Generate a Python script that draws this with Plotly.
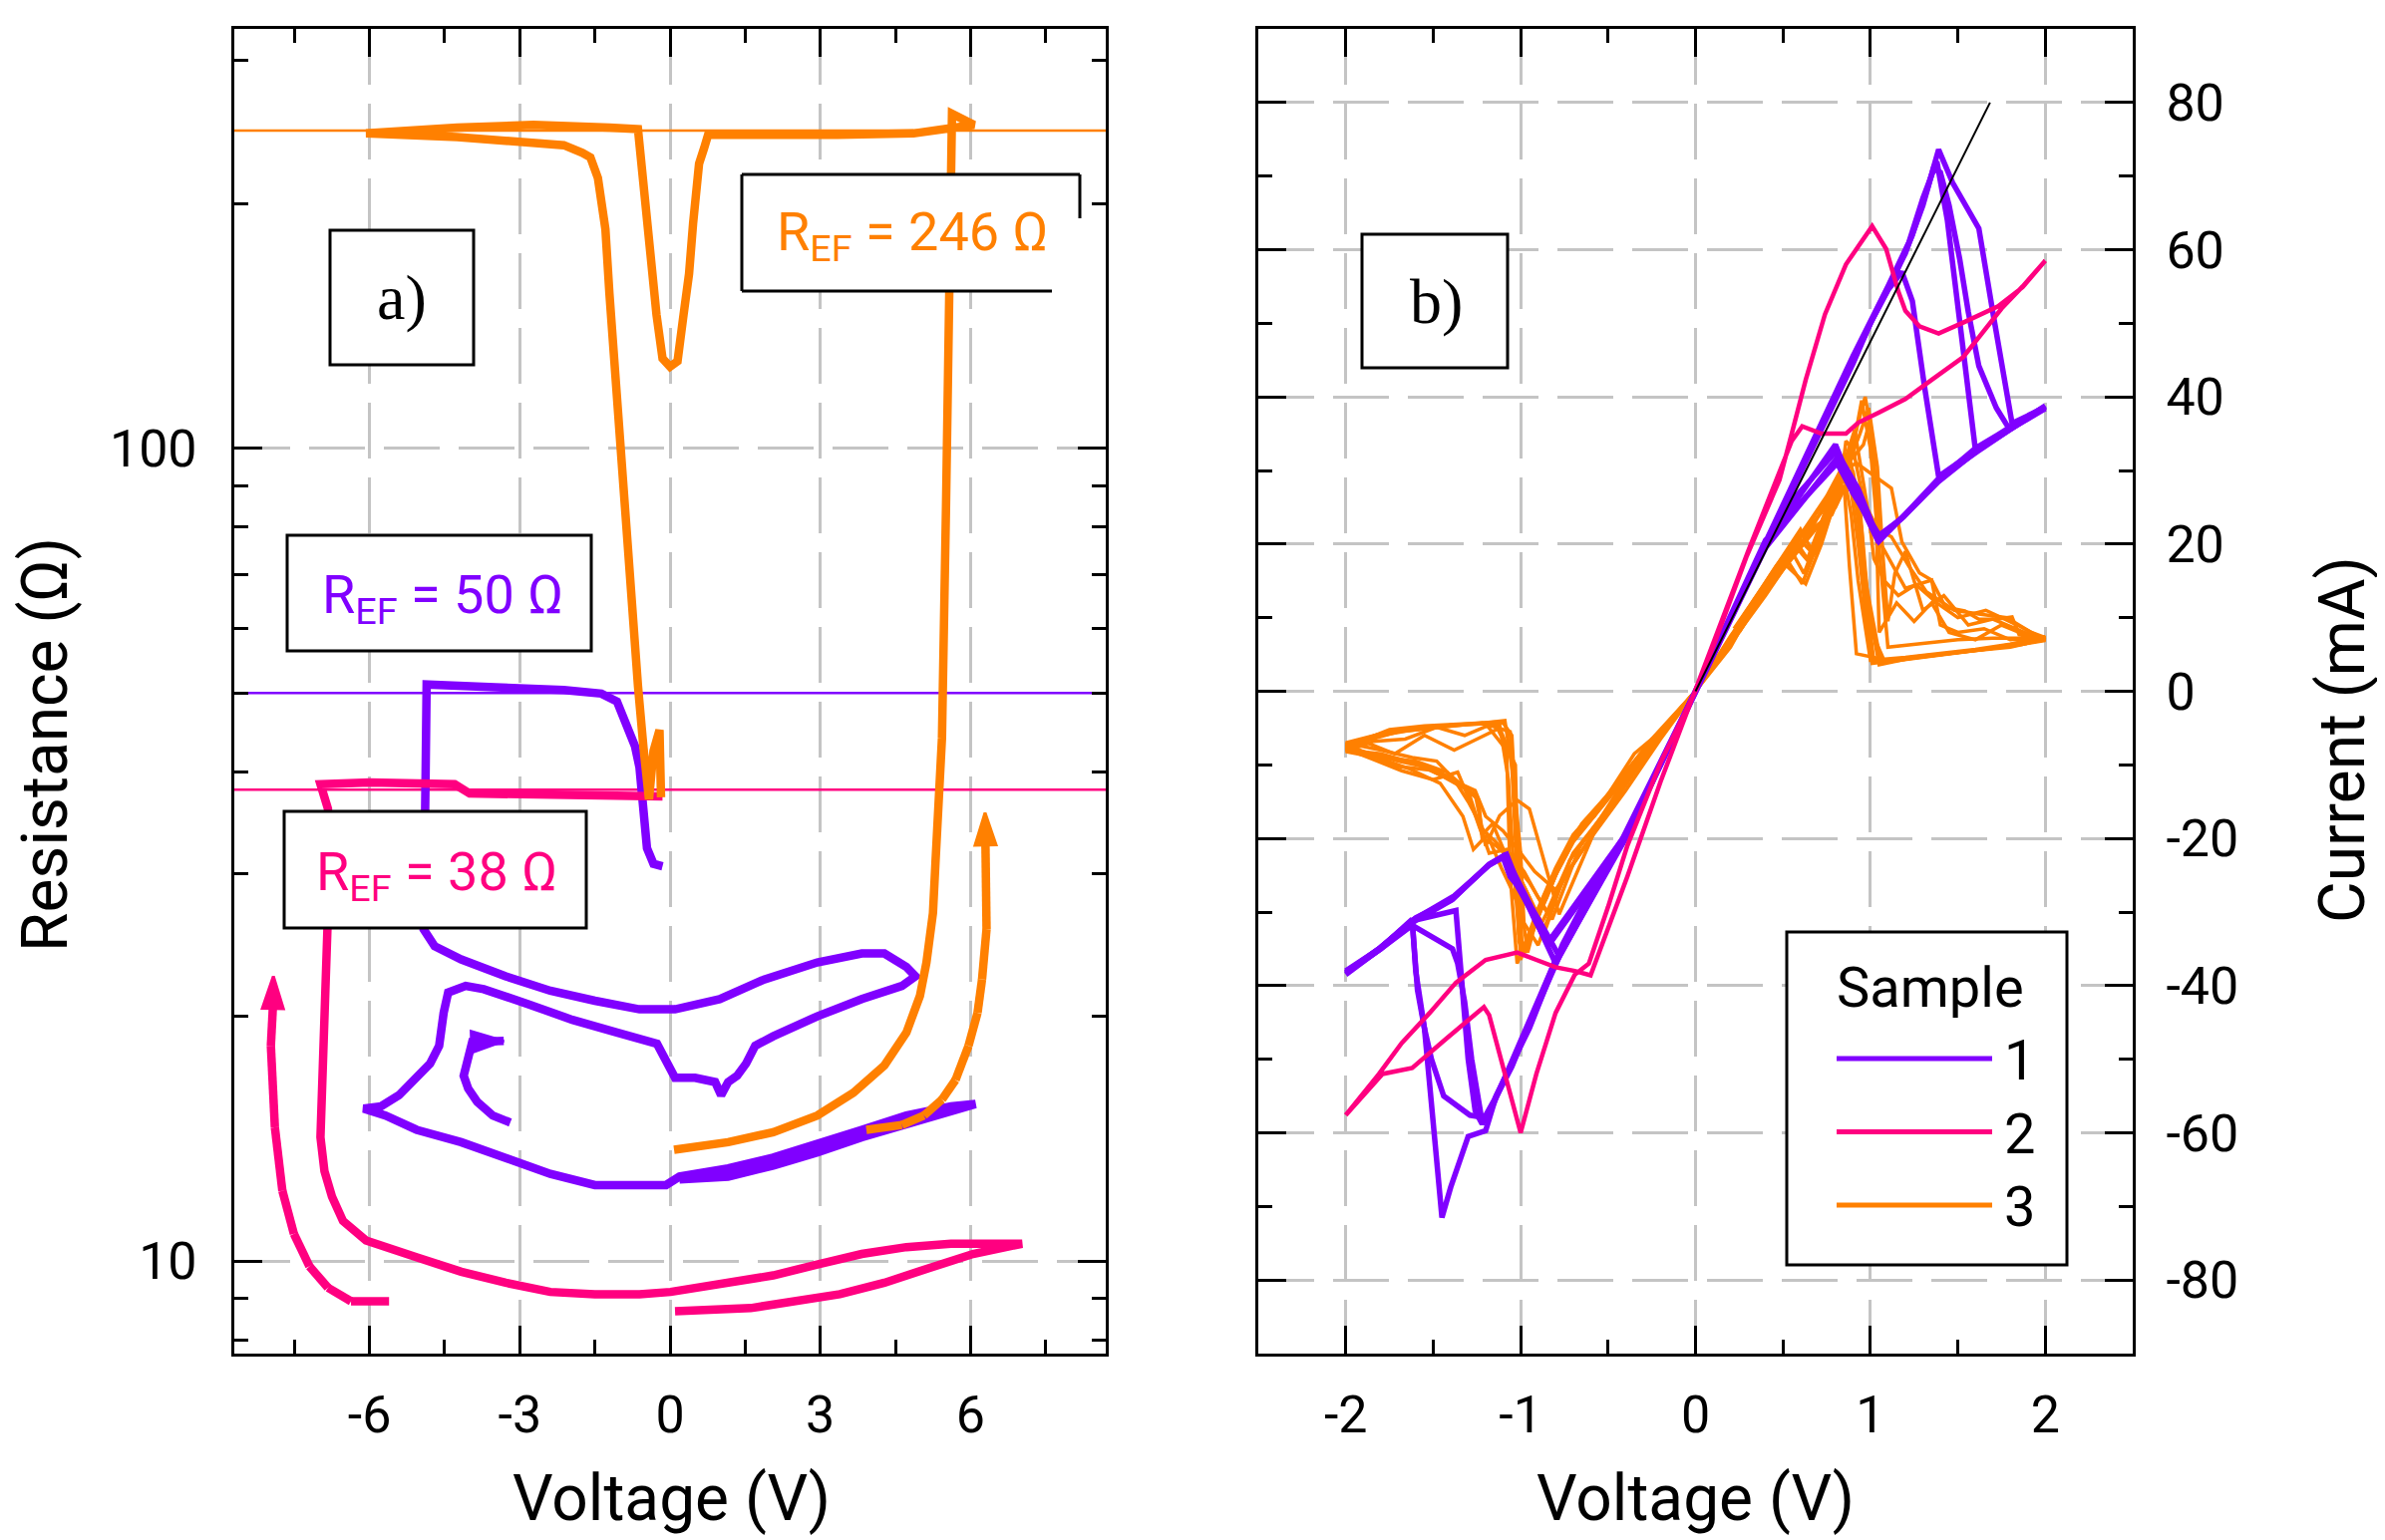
import plotly.graph_objects as go

# ---------------- DATA ----------------
# Panel a) Resistance vs voltage (V, Ohm)
s1_rv_v = [-0.15, -0.33, -0.46, -0.53, -0.61, -0.70, -0.79, -0.91, -1.06, -1.37, -2.12, -3.49, -4.86,
           -4.88, -4.90, -4.92, -4.70, -4.17, -3.28, -2.39, -1.50, -0.61, -0.08,
           0.10, 0.99, 1.88, 2.94, 3.83, 4.28, 4.72, 4.90, 4.63, 3.83, 2.94, 2.06, 1.70, 1.52, 1.34, 1.16, 1.02, 0.90, 0.50, 0.10,
           -0.26, -1.06, -1.95, -2.83, -3.72, -4.08, -4.43, -4.52, -4.61, -4.79, -5.06, -5.41, -5.77, -6.12,
           -5.68, -5.06, -4.17, -3.28, -2.39, -1.50, -0.61, -0.08,
           0.19, 1.16, 2.06, 2.94, 3.83, 4.72, 5.61, 6.10, 5.61, 4.72, 3.83, 2.94, 2.06, 1.16, 0.19]
s1_rv_r = [30.6, 30.8, 32.2, 36.4, 40.5, 43.0, 44.5, 46.7, 48.8, 49.9, 50.4, 50.8, 51.2,
           40.0, 30.0, 25.6, 24.4, 23.5, 22.4, 21.5, 20.9, 20.4, 20.4,
           20.4, 21.0, 22.2, 23.3, 23.9, 23.9, 23.0, 22.4, 21.8, 21.0, 20.0, 18.9, 18.4, 17.5, 16.9, 16.6, 16.0, 16.6, 16.8, 16.8,
           18.5, 19.1, 19.8, 20.7, 21.6, 21.8, 21.4, 20.2, 18.4, 17.5, 16.8, 16.0, 15.5, 15.4,
           15.1, 14.5, 14.0, 13.4, 12.8, 12.4, 12.4, 12.4,
           12.7, 13.0, 13.4, 13.9, 14.5, 15.1, 15.5, 15.6, 15.3, 14.8, 14.2, 13.6, 13.1, 12.7, 12.6]
s1_curl_v = [-3.19, -3.54, -3.85, -4.03, -4.12, -4.06, -3.99, -3.95, -3.32]
s1_curl_r = [14.8, 15.1, 15.7, 16.3, 16.9, 17.6, 18.2, 18.6, 18.65]

s2_rv_v = [-0.15, -2.0, -4.0, -4.3, -6.0, -6.98, -6.83, -6.83, -6.90, -6.98, -6.90, -6.75, -6.53, -6.07, -5.05, -4.17,
           -3.28, -2.39, -1.50, -0.61, 0.01, 1.16, 2.06, 2.94, 3.83, 4.72, 5.61, 7.03, 6.05, 5.17, 4.28, 3.39, 2.50, 1.61, 0.10]
s2_rv_r = [37.3, 37.5, 37.6, 38.6, 38.8, 38.6, 36.0, 26.8, 19.8, 14.2, 12.9, 12.0, 11.2, 10.6, 10.1, 9.7,
           9.4, 9.16, 9.1, 9.1, 9.16, 9.4, 9.6, 9.9, 10.2, 10.4, 10.5, 10.5, 10.2, 9.8, 9.4, 9.1, 8.9, 8.75, 8.67]
s2_arrow_v = [-5.61, -6.37, -6.83, -7.20, -7.51, -7.74, -7.89, -7.97, -7.93, -7.92]
s2_arrow_r = [8.92, 8.92, 9.27, 9.85, 10.8, 12.2, 14.6, 18.4, 20.5, 22.4]

s3_rv_v = [0.08, 1.16, 2.06, 2.94, 3.66, 4.28, 4.72, 4.99, 5.12, 5.25, 5.30, 5.39, 5.43, 5.51, 5.55, 5.61, 5.61, 5.63,
           6.07, 4.86, 3.34, 1.82, 0.76, 0.68, 0.58, 0.46, 0.38, 0.27, 0.15, 0.0, -0.15, -0.27, -0.38, -0.49, -0.58, -0.64,
           -1.21, -2.73, -4.25, -6.07, -4.25, -2.73, -2.12, -1.75, -1.59, -1.44, -1.29, -1.21, -1.09, -0.99, -0.88, -0.76,
           -0.64, -0.53, -0.46, -0.42, -0.33, -0.21, -0.18]
s3_rv_r = [13.7, 14.0, 14.4, 15.1, 16.1, 17.4, 19.1, 21.2, 23.3, 26.8, 30.9, 38.1, 44.0, 84.4, 130, 200, 245, 258,
           250, 244, 243, 243, 243, 234, 224, 189, 164, 146, 128, 126, 129, 146, 173, 200, 231, 247,
           248, 250, 248, 244, 241.5, 238, 236, 231, 228, 215, 186, 155, 121, 97.4, 78.5, 63.2,
           51.0, 42.8, 39.3, 37.0, 42.4, 45.0, 37.2]
s3_arrow_v = [3.92, 4.63, 5.07, 5.43, 5.70, 5.96, 6.14, 6.23, 6.32, 6.32, 6.30, 6.29]
s3_arrow_r = [14.5, 14.7, 15.1, 15.8, 16.7, 18.4, 20.2, 22.2, 25.6, 29.5, 32.5, 35.6]

ref_r = [246, 50, 38]          # R_EF reference levels (Ohm)
ref_labels = ["246", "50", "38"]

# Panel b) Current vs voltage (V, mA), cycles
s1_iv_v = [
    [0, 0.29, 0.57, 0.86, 1.01, 1.14, 1.24, 1.33, 1.39, 1.47, 1.62, 1.70, 1.81, 2.0, 1.81, 1.62, 1.39, 1.18, 1.05, 0.97, 0.90, 0.80, 0.50, 0,
     -0.39, -0.58, -0.76, -0.95, -1.14, -1.20, -1.30, -1.40, -1.45, -1.49, -1.55, -1.59, -1.62, -1.81, -2.0, -1.81, -1.62, -1.39, -1.18, -1.10, -1.06, -0.99, -0.87, -0.80, -0.50, 0],
    [0.30, 0.60, 0.90, 1.05, 1.20, 1.30, 1.36, 1.40, 1.45, 1.51, 1.56, 1.62, 1.72, 1.79, 2.0, 1.79, 1.60, 1.39, 1.20, 1.04, 0.92, 0.80, 0.40, 0,
     -0.40, -0.76, -1.00, -1.15, -1.22, -1.23, -1.28, -1.32, -1.36, -1.39, -1.62, -1.81, -2.0, -1.80, -1.61, -1.38, -1.17, -1.09, -1.02, -0.94, -0.85, -0.78, -0.40, 0],
    [0.30, 0.60, 0.90, 1.00, 1.10, 1.18, 1.24, 1.31, 1.39, 1.62, 2.0, 1.62, 1.39, 1.17, 1.05, 0.93, 0.82, 0.40, 0,
     -0.40, -0.80, -1.05, -1.19, -1.29, -1.44, -1.51, -1.55, -1.60, -1.62, -1.82, -2.0, -1.83, -1.60, -1.40, -1.19, -1.10, -1.03, -0.95, -0.84, -0.40, 0],
    [0.30, 0.60, 0.90, 1.10, 1.22, 1.30, 1.38, 1.44, 1.49, 1.54, 1.60, 1.80, 2.0, 1.80, 1.60, 1.40, 1.19, 1.05, 0.90, 0.81, 0.40, 0,
     -0.40, -0.80, -1.05, -1.22, -1.26, -1.30, -1.35, -1.37, -1.62, -1.80, -2.0, -1.80, -1.61, -1.39, -1.18, -1.08, -1.00, -0.92, -0.84, -0.40, 0],
]
s1_iv_i = [
    [0, 14.5, 28.8, 43.0, 50.5, 56.5, 62.0, 68.6, 73.6, 69.1, 62.9, 51.5, 36.4, 38.6, 35.8, 32.9, 28.7, 23.5, 21.2, 24.4, 27.0, 32.5, 24.5, 0,
     -19.0, -26.2, -34.4, -45.8, -55.0, -59.7, -60.5, -67.4, -71.5, -61.2, -45.8, -40.6, -31.3, -35.0, -38.0, -35.0, -31.3, -28.2, -23.6, -22.6, -25.2, -27.2, -33.4, -37.0, -24.0, 0],
    [15.0, 30.0, 45.0, 52.5, 59.5, 66.0, 71.0, 70.5, 66.0, 58.8, 51.5, 44.2, 38.5, 35.8, 38.4, 35.5, 32.5, 28.5, 24.0, 20.6, 26.5, 33.5, 20.0, 0,
     -19.5, -35.0, -48.0, -55.5, -58.5, -57.1, -50.0, -42.2, -37.0, -35.0, -31.8, -35.2, -38.3, -34.8, -31.0, -27.8, -23.4, -22.3, -25.5, -29.3, -33.0, -36.0, -20.0, 0],
    [14.8, 29.5, 44.5, 50.0, 54.5, 57.0, 53.0, 41.3, 29.2, 33.0, 38.8, 32.7, 28.9, 23.3, 20.4, 27.5, 32.0, 19.5, 0,
     -19.8, -36.5, -50.5, -58.0, -57.6, -55.0, -50.0, -45.8, -38.0, -31.0, -35.3, -38.5, -35.5, -30.8, -28.4, -23.8, -22.4, -26.0, -29.5, -34.0, -19.5, 0],
    [15.2, 30.2, 45.5, 55.0, 61.0, 67.0, 72.0, 64.0, 54.6, 45.2, 32.9, 35.9, 38.7, 36.0, 33.0, 29.0, 23.7, 21.0, 27.0, 31.0, 20.5, 0,
     -19.6, -36.5, -51.0, -58.8, -57.0, -50.0, -37.0, -29.8, -31.2, -34.8, -38.2, -35.0, -31.3, -28.3, -23.5, -22.2, -27.0, -31.0, -34.5, -20.0, 0],
]

s2_iv_v = [0, 0.10, 0.29, 0.48, 0.55, 0.63, 0.74, 0.86, 1.01, 1.09, 1.16, 1.20, 1.28, 1.39, 1.54, 1.73, 1.87, 2.0,
           1.87, 1.75, 1.53, 1.35, 1.20, 1.05, 0.93, 0.86, 0.72, 0.61, 0.55, 0.30, 0,
           -0.20, -0.39, -0.58, -0.60, -0.69, -0.80, -0.91, -1.02, -1.20, -1.37, -1.52, -1.68, -1.81, -2.0,
           -1.79, -1.62, -1.43, -1.21, -1.18, -1.10, -1.00, -0.91, -0.80, -0.69, -0.61, -0.50, -0.39, -0.20, 0]
s2_iv_i = [0, 6.0, 18.2, 28.7, 35.0, 42.3, 51.2, 58.0, 63.2, 60.1, 54.3, 51.7, 49.6, 48.6, 50.2, 52.3, 54.9, 58.5,
           55.0, 52.0, 45.4, 42.3, 39.7, 37.9, 36.5, 35.0, 35.0, 36.0, 34.0, 19.0, 0,
           -12.3, -25.2, -37.5, -38.6, -38.0, -37.5, -36.5, -35.5, -36.5, -39.6, -43.7, -47.8, -52.0, -57.6,
           -52.0, -51.2, -47.3, -42.9, -44.0, -50.9, -60.0, -52.0, -43.7, -38.5, -37.0, -29.3, -21.0, -9.7, 0]

s3_iv_v = [
    [0, 0.20, 0.40, 0.55, 0.62, 0.70, 0.80, 0.90, 0.95, 1.00, 1.04, 1.08, 1.10, 1.30, 1.50, 1.70, 2.00, 1.80, 1.60, 1.40,
     1.20, 1.02, 0.98, 0.95, 0.90, 0.80, 0.60, 0.40, 0.20, 0,
     -0.20, -0.35, -0.50, -0.65, -0.75, -0.85, -0.95, -1.00, -1.02, -1.03, -1.05, -1.10, -1.30, -1.50, -1.70, -2.00, -1.70, -1.50, -1.35, -1.24,
     -1.22, -1.14, -1.05, -0.95, -0.85, -0.70, -0.50, -0.30, 0],
    [0.22, 0.45, 0.58, 0.66, 0.76, 0.84, 0.92, 1.12, 1.18, 1.28, 1.35, 1.43, 1.54, 1.62, 1.72, 1.81, 1.85, 2.00, 1.75, 1.50,
     1.25, 1.05, 1.00, 0.96, 0.92, 0.85, 0.70, 0.45, 0.20, 0,
     -0.22, -0.40, -0.55, -0.70, -0.80, -0.90, -0.97, -1.02, -1.06, -1.08, -1.20, -1.40, -1.60, -1.80, -2.00, -1.85, -1.71, -1.52, -1.33, -1.26,
     -1.20, -1.10, -1.00, -0.92, -0.80, -0.60, -0.40, -0.20, 0],
    [0.25, 0.50, 0.63, 0.72, 0.78, 0.86, 0.94, 0.99, 1.01, 1.06, 1.20, 1.35, 1.40, 1.50, 1.65, 1.80, 2.00, 1.80, 1.60, 1.40,
     1.20, 1.00, 0.93, 0.89, 0.84, 0.75, 0.55, 0.35, 0.15, 0,
     -0.25, -0.45, -0.60, -0.72, -0.82, -0.91, -0.96, -0.98, -1.00, -1.04, -1.09, -1.25, -1.45, -1.65, -1.85, -2.00, -1.80, -1.60, -1.45, -1.26,
     -1.20, -1.12, -1.02, -0.95, -0.87, -0.78, -0.55, -0.35, -0.15, 0],
    [0.20, 0.42, 0.60, 0.68, 0.74, 0.82, 0.88, 0.93, 0.97, 1.00, 1.03, 1.05, 1.15, 1.25, 1.35, 1.45, 1.60, 1.75, 1.85, 2.00,
     1.80, 1.55, 1.30, 1.10, 0.92, 0.88, 0.85, 0.78, 0.60, 0.40, 0.20, 0,
     -0.18, -0.38, -0.58, -0.68, -0.78, -0.88, -0.94, -0.99, -1.01, -1.03, -1.15, -1.35, -1.55, -1.75, -2.00, -1.78, -1.60, -1.42, -1.30, -1.24,
     -1.18, -1.08, -0.98, -0.90, -0.82, -0.66, -0.46, -0.26, 0],
    [0.18, 0.36, 0.52, 0.61, 0.69, 0.77, 0.84, 0.86, 0.90, 0.96, 1.04, 1.12, 1.22, 1.32, 1.48, 1.62, 1.78, 1.92, 2.00, 1.70,
     1.40, 1.15, 1.01, 0.97, 0.93, 0.87, 0.72, 0.50, 0.28, 0,
     -0.28, -0.48, -0.62, -0.74, -0.84, -0.92, -0.99, -1.01, -1.03, -1.06, -1.22, -1.40, -1.62, -1.80, -2.00, -1.80, -1.62, -1.48, -1.38, -1.30,
     -1.21, -1.14, -1.06, -0.97, -0.88, -0.74, -0.52, -0.28, 0],
    [0.15, 0.33, 0.48, 0.57, 0.64, 0.72, 0.80, 0.87, 0.91, 0.95, 0.99, 1.02, 1.08, 1.16, 1.26, 1.38, 1.50, 1.66, 1.84, 2.00,
     1.78, 1.52, 1.28, 1.08, 0.99, 0.95, 0.91, 0.84, 0.66, 0.44, 0.22, 0,
     -0.16, -0.32, -0.46, -0.60, -0.70, -0.80, -0.89, -0.95, -0.99, -1.00, -1.02, -1.05, -1.12, -1.25, -1.38, -1.55, -1.72, -1.88, -2.00, -1.85,
     -1.68, -1.50, -1.36, -1.28, -1.22, -1.16, -1.08, -1.00, -0.93, -0.86, -0.72, -0.50, -0.26, 0],
    [0.24, 0.46, 0.56, 0.65, 0.74, 0.81, 0.89, 0.96, 1.00, 1.04, 1.07, 1.10, 1.14, 1.20, 1.30, 1.42, 1.56, 1.70, 1.86, 2.00,
     1.85, 1.65, 1.45, 1.25, 1.06, 0.98, 0.94, 0.88, 0.80, 0.62, 0.38, 0.18, 0,
     -0.24, -0.42, -0.57, -0.69, -0.79, -0.87, -0.93, -0.97, -1.01, -1.04, -1.07, -1.12, -1.20, -1.32, -1.48, -1.66, -1.84, -2.00, -1.82, -1.64,
     -1.46, -1.33, -1.27, -1.19, -1.11, -1.04, -0.98, -0.90, -0.76, -0.56, -0.34, -0.14, 0],
]
s3_iv_i = [
    [0, 7.0, 14.0, 19.0, 16.0, 21.0, 27.0, 33.0, 39.5, 33.0, 22.0, 12.0, 6.0, 6.5, 7.0, 7.2, 7.2, 6.2, 5.6, 5.0,
     4.4, 4.0, 12.0, 22.0, 30.0, 25.0, 20.0, 13.0, 6.5, 0,
     -5.5, -8.5, -14.0, -18.0, -22.0, -28.0, -33.0, -36.5, -28.0, -15.0, -6.0, -4.3, -4.5, -5.0, -5.5, -7.5, -9.5, -10.5, -12.5, -14.8,
     -20.0, -21.0, -23.0, -26.0, -30.0, -22.0, -16.0, -9.0, 0],
    [8.5, 16.5, 21.0, 19.0, 24.0, 30.0, 31.0, 27.6, 20.3, 16.1, 15.1, 11.4, 10.9, 9.8, 9.8, 10.1, 7.7, 7.0, 6.0, 5.3,
     4.6, 3.6, 10.0, 18.0, 26.0, 29.0, 24.5, 16.0, 7.5, 0,
     -6.0, -11.0, -15.5, -19.5, -24.0, -29.5, -34.0, -37.0, -25.0, -8.0, -4.4, -4.6, -5.0, -5.8, -7.2, -8.7, -10.2, -10.7, -12.8, -13.5,
     -17.0, -19.0, -22.0, -24.5, -27.0, -20.0, -13.5, -6.5, 0],
    [8.0, 17.5, 14.6, 20.0, 24.5, 30.0, 35.0, 38.5, 34.0, 20.0, 14.0, 15.1, 9.0, 8.0, 8.5, 7.0, 7.4, 6.4, 5.7, 5.1,
     4.6, 4.2, 15.0, 24.0, 30.5, 26.5, 19.5, 12.5, 5.0, 0,
     -6.5, -12.5, -17.0, -21.0, -25.5, -31.0, -35.5, -32.0, -22.0, -12.0, -4.0, -4.4, -4.8, -5.4, -6.2, -8.0, -8.5, -9.8, -11.5, -14.0,
     -21.0, -16.9, -14.8, -16.0, -22.6, -30.3, -17.5, -10.0, -4.0, 0],
    [6.5, 15.5, 22.0, 18.5, 22.0, 27.0, 32.0, 36.5, 40.0, 36.0, 26.0, 8.0, 12.0, 9.5, 12.0, 8.0, 7.0, 9.0, 8.0, 7.1,
     6.0, 5.4, 4.8, 4.2, 5.1, 17.0, 28.0, 24.0, 21.0, 14.5, 6.0, 0,
     -5.0, -10.5, -17.0, -19.0, -23.5, -28.5, -33.0, -36.0, -30.0, -10.0, -4.2, -4.4, -4.7, -5.2, -7.6, -9.0, -9.5, -11.0, -13.5, -18.0,
     -22.0, -21.5, -24.5, -28.0, -31.0, -21.0, -14.5, -7.5, 0],
    [6.0, 12.5, 18.0, 14.6, 19.5, 25.0, 30.0, 34.0, 33.0, 26.0, 22.0, 21.0, 17.0, 13.5, 11.0, 10.5, 10.0, 8.0, 7.3, 5.9,
     5.0, 4.3, 3.8, 11.0, 20.0, 31.0, 23.0, 16.5, 9.5, 0,
     -7.5, -13.5, -18.0, -21.5, -26.5, -31.5, -35.0, -34.0, -20.0, -5.5, -4.3, -4.6, -5.1, -5.8, -7.0, -8.0, -9.0, -9.5, -12.0, -15.0,
     -19.0, -20.5, -23.0, -27.0, -31.5, -25.0, -17.0, -8.5, 0],
    [5.5, 12.0, 17.5, 20.5, 18.0, 23.0, 28.0, 32.5, 35.5, 30.0, 24.0, 18.0, 15.0, 13.0, 14.5, 12.0, 10.0, 11.0, 9.0, 7.0,
     6.1, 5.3, 4.6, 4.1, 9.0, 19.0, 27.0, 29.5, 22.0, 15.0, 7.0, 0,
     -4.5, -9.0, -13.5, -17.5, -20.5, -25.0, -30.0, -34.0, -36.0, -30.0, -20.0, -9.0, -5.0, -6.5, -8.0, -6.0, -8.5, -7.0, -7.8, -9.2,
     -10.8, -12.0, -11.0, -15.5, -19.5, -18.0, -22.5, -25.5, -29.0, -32.5, -23.0, -16.0, -8.0, 0],
    [9.0, 17.0, 20.0, 17.5, 22.5, 27.5, 31.5, 33.5, 37.0, 30.5, 19.0, 9.5, 16.0, 19.0, 11.0, 13.0, 9.0, 9.8, 8.2, 6.9,
     6.3, 5.7, 5.0, 4.5, 3.9, 14.0, 25.0, 32.0, 26.5, 21.5, 13.5, 6.0, 0,
     -6.5, -12.0, -16.5, -20.0, -24.5, -29.0, -32.5, -35.5, -33.0, -24.0, -12.0, -4.6, -4.8, -6.0, -4.9, -6.5, -6.8, -8.2, -9.0, -10.5,
     -12.5, -17.0, -21.5, -19.5, -24.0, -27.5, -31.5, -34.5, -25.5, -18.5, -10.5, -4.0, 0],
]

fit_v = [0, 1.684]   # linear fit (black line)
fit_i = [0, 80]

samples = ["1", "2", "3"]

# ticks
xa_ticks = [-6, -3, 0, 3, 6]
xa_ticktext = ["-6", "-3", "0", "3", "6"]
xa_minor = [-7.5, -4.5, -1.5, 1.5, 4.5, 7.5]
ya_ticks = [10, 100]
ya_ticktext = ["10", "100"]
ya_minor = [8, 9, 20, 30, 40, 50, 60, 70, 80, 90, 200, 300]
xb_ticks = [-2, -1, 0, 1, 2]
xb_ticktext = ["-2", "-1", "0", "1", "2"]
xb_minor = [-1.5, -0.5, 0.5, 1.5]
yb_ticks = [-80, -60, -40, -20, 0, 20, 40, 60, 80]
yb_ticktext = ["-80", "-60", "-40", "-20", "0", "20", "40", "60", "80"]
yb_minor = [-70, -50, -30, -10, 10, 30, 50, 70]

XA_RANGE = [-8.7, 8.7]
YA_RANGE_LOG = [0.886, 2.516]
XB_RANGE = [-2.5, 2.5]
YB_RANGE = [-90, 90]

# ---------------- STYLE ----------------
PURPLE = "#8000ff"
PINK = "#ff0080"
ORANGE = "#ff8000"
COLORS = [PURPLE, PINK, ORANGE]
FONT = "Roboto"

OFF = 8  # page body margin in the browser
W_FIG, H_FIG = 2392 - OFF, 1545 - OFF
L, R, T, B = 235, 2139, 29, 1358        # plot-area edges in reference pixels
PW, PH = R - L, B - T


def px(x):
    return (x - L) / PW


def py(y):
    return (B - y) / PH


fig = go.Figure()

# reference lines (panel a)
for r, c in zip(ref_r, [ORANGE, PURPLE, PINK]):
    fig.add_trace(go.Scatter(x=XA_RANGE, y=[r, r], mode="lines", line=dict(color=c, width=2.5),
                             xaxis="x", yaxis="y", showlegend=False, hoverinfo="skip"))

LW_A = 8.5


def arrow_trace(xs, ys, color, ax="x", ay="y"):
    sizes = [0] * (len(xs) - 1) + [34]
    return go.Scatter(x=xs, y=ys, mode="lines+markers", line=dict(color=color, width=LW_A),
                      marker=dict(symbol="arrow", size=sizes, color=color, angleref="previous",
                                  opacity=1, line=dict(width=3, color=color)),
                      xaxis=ax, yaxis=ay, showlegend=False)


fig.add_trace(go.Scatter(x=s1_rv_v, y=s1_rv_r, mode="lines", line=dict(color=PURPLE, width=LW_A),
                         xaxis="x", yaxis="y", showlegend=False))
fig.add_trace(arrow_trace(s1_curl_v, s1_curl_r, PURPLE))
fig.add_trace(go.Scatter(x=s2_rv_v, y=s2_rv_r, mode="lines", line=dict(color=PINK, width=LW_A),
                         xaxis="x", yaxis="y", showlegend=False))
fig.add_trace(arrow_trace(s2_arrow_v, s2_arrow_r, PINK))
fig.add_trace(go.Scatter(x=s3_rv_v, y=s3_rv_r, mode="lines", line=dict(color=ORANGE, width=LW_A),
                         xaxis="x", yaxis="y", showlegend=False))
fig.add_trace(arrow_trace(s3_arrow_v, s3_arrow_r, ORANGE))

# panel b
for vv, ii in zip(s3_iv_v, s3_iv_i):
    fig.add_trace(go.Scatter(x=vv, y=ii, mode="lines", line=dict(color=ORANGE, width=3.5),
                             xaxis="x2", yaxis="y2", showlegend=False))
for vv, ii in zip(s1_iv_v, s1_iv_i):
    fig.add_trace(go.Scatter(x=vv, y=ii, mode="lines", line=dict(color=PURPLE, width=5.5),
                             xaxis="x2", yaxis="y2", showlegend=False))
fig.add_trace(go.Scatter(x=s2_iv_v, y=s2_iv_i, mode="lines", line=dict(color=PINK, width=4.5),
                         xaxis="x2", yaxis="y2", showlegend=False))
fig.add_trace(go.Scatter(x=fit_v, y=fit_i, mode="lines", line=dict(color="black", width=2),
                         xaxis="x2", yaxis="y2", showlegend=False))

tickfont = dict(family=FONT, size=52, color="black")
grid = dict(showgrid=True, gridcolor="#c4c4c4", gridwidth=2.5, griddash="56px,19px")
common = dict(ticks="inside", ticklen=28, tickwidth=3, tickcolor="black", showline=True,
              linecolor="black", linewidth=3, mirror="allticks", zeroline=False,
              tickfont=tickfont, tickmode="array", **grid)


def minor(vals):
    return dict(tickmode="array", tickvals=vals, ticks="inside", ticklen=14, tickwidth=3,
                tickcolor="black", showgrid=False)


fig.update_layout(
    width=W_FIG, height=H_FIG,
    margin=dict(l=L - OFF, r=W_FIG - (R - OFF), t=T - OFF, b=H_FIG - (B - OFF)),
    paper_bgcolor="white", plot_bgcolor="white",
    xaxis=dict(domain=[0, px(1109)], range=XA_RANGE, tickvals=xa_ticks, ticktext=xa_ticktext,
               minor=minor(xa_minor), anchor="y", ticklabelstandoff=14, **common),
    yaxis=dict(domain=[0, 1], type="log", range=YA_RANGE_LOG, tickvals=ya_ticks, ticktext=ya_ticktext,
               minor=minor(ya_minor), anchor="x", ticklabelstandoff=24, **common),
    xaxis2=dict(domain=[px(1262), 1], range=XB_RANGE, tickvals=xb_ticks, ticktext=xb_ticktext,
                minor=minor(xb_minor), anchor="y2", ticklabelstandoff=14, **common),
    yaxis2=dict(domain=[0, 1], range=YB_RANGE, tickvals=yb_ticks, ticktext=yb_ticktext, side="right",
                minor=minor(yb_minor), anchor="x2", ticklabelstandoff=20, **common),
)

shapes = []
annots = []


def box(x0, y0, x1, y1):
    shapes.append(dict(type="rect", xref="paper", yref="paper", x0=px(x0), x1=px(x1), y0=py(y1), y1=py(y0),
                       fillcolor="white", line=dict(color="black", width=3), layer="above"))


def seg(x0, y0, x1, y1, color="black", width=3):
    shapes.append(dict(type="line", xref="paper", yref="paper", x0=px(x0), x1=px(x1), y0=py(y0), y1=py(y1),
                       line=dict(color=color, width=width), layer="above"))


def text(x, y, s, size, color="black", family=FONT, angle=0, xanchor="center"):
    annots.append(dict(x=px(x), y=py(y), xref="paper", yref="paper", text=s, showarrow=False,
                       font=dict(family=family, size=size, color=color), textangle=angle,
                       xanchor=xanchor, yanchor="middle"))


# panel labels
box(331, 231, 475, 366)
text(403, 299, "a)", 64, family="Liberation Serif")
box(1366, 235, 1512, 369)
text(1440, 302, "b)", 64, family="Liberation Serif")

# R_EF boxes
shapes.append(dict(type="rect", xref="paper", yref="paper", x0=px(744), x1=px(1083), y0=py(292), y1=py(175),
                   fillcolor="white", line=dict(width=0), layer="above"))
seg(744, 175, 1083, 175)
seg(744, 175, 744, 292)
seg(744, 292, 1055, 292)
seg(1083, 175, 1083, 219)
text(915, 236, "R<sub>EF</sub> = %s Ω" % ref_labels[0], 54, ORANGE)
box(288, 537, 593, 653)
text(444, 600, "R<sub>EF</sub> = %s Ω" % ref_labels[1], 54, PURPLE)
box(285, 814, 588, 931)
text(438, 878, "R<sub>EF</sub> = %s Ω" % ref_labels[2], 54, PINK)

# manual legend
box(1792, 935, 2073, 1269)
text(1936, 991, "Sample", 56)
for k, (lab, c) in enumerate(zip(samples, COLORS)):
    yy = 1062 + k * 73.5
    seg(1842, yy, 1998, yy, color=c, width=5)
    text(2008, yy + 2, lab, 56, xanchor="left")

# axis titles
text(673, 1503, "Voltage (V)", 64)
text(1700, 1503, "Voltage (V)", 64)
text(46, 747, "Resistance (Ω)", 64, angle=-90)
text(2349, 742, "Current (mA)", 64, angle=-90)

fig.update_layout(shapes=shapes, annotations=annots)
fig.write_html("out.html")
